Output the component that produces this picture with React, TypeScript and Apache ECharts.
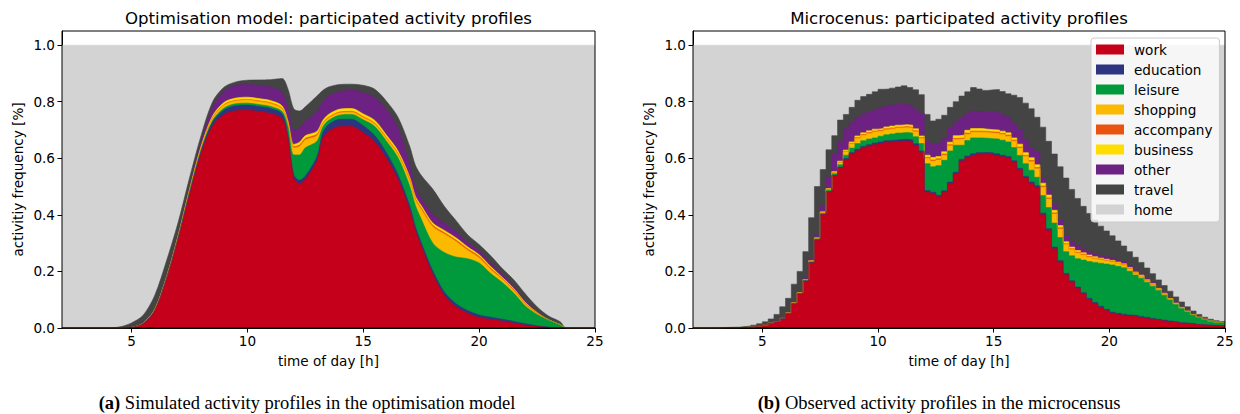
import React, { useEffect, useRef } from "react";
import * as echarts from "echarts";

const SERIES_NAMES = ["work", "education", "leisure", "shopping", "accompany", "business", "other", "travel", "home"];
const COLORS = ["#c4001a", "#2e3580", "#009a3d", "#fbb900", "#e9530f", "#ffdd00", "#6d2182", "#444444", "#d3d3d3"];

const X_TICKS = [5, 10, 15, 20, 25];
const Y_TICKS = [0, 0.2, 0.4, 0.6, 0.8, 1.0];

// ---------- (a) optimisation model ----------
const TIMES_A = [2, 3, 4, 4.5, 5, 5.5, 6, 6.5, 7, 7.5, 8, 8.5, 9, 9.5, 10, 10.5, 11, 11.5, 11.75, 12, 12.25, 12.5, 13, 13.25, 13.5, 14, 14.5, 15, 15.5, 16, 16.5, 17, 17.25, 17.5, 18, 18.5, 19, 19.5, 20, 20.5, 21, 21.5, 22, 22.5, 23, 23.5, 23.75, 24, 25];
const WORK_A = [0, 0, 0, 0, 0.002, 0.015, 0.06, 0.17, 0.31, 0.47, 0.615, 0.715, 0.755, 0.768, 0.77, 0.765, 0.758, 0.74, 0.67, 0.53, 0.51, 0.525, 0.59, 0.67, 0.695, 0.712, 0.712, 0.69, 0.658, 0.6, 0.525, 0.418, 0.345, 0.29, 0.19, 0.115, 0.075, 0.052, 0.037, 0.03, 0.024, 0.017, 0.01, 0.005, 0.002, 0, 0, 0, 0];
const EDUCATION_A = [0, 0, 0, 0, 0, 0.001, 0.002, 0.003, 0.005, 0.007, 0.01, 0.013, 0.016, 0.018, 0.018, 0.018, 0.018, 0.017, 0.012, 0.012, 0.012, 0.012, 0.015, 0.02, 0.024, 0.026, 0.026, 0.025, 0.022, 0.02, 0.017, 0.015, 0.013, 0.012, 0.012, 0.012, 0.011, 0.01, 0.009, 0.008, 0.007, 0.006, 0.005, 0.003, 0.001, 0, 0, 0, 0];
const LEISURE_A = [0, 0, 0, 0, 0, 0.001, 0.002, 0.002, 0.003, 0.004, 0.005, 0.006, 0.007, 0.007, 0.007, 0.007, 0.007, 0.008, 0.03, 0.07, 0.09, 0.1, 0.055, 0.02, 0.015, 0.015, 0.017, 0.021, 0.032, 0.04, 0.06, 0.07, 0.075, 0.083, 0.098, 0.14, 0.165, 0.183, 0.184, 0.155, 0.13, 0.1, 0.062, 0.04, 0.025, 0.012, 0, 0, 0];
const SHOPPING_A = [0, 0, 0, 0, 0, 0, 0.001, 0.001, 0.002, 0.004, 0.006, 0.008, 0.01, 0.01, 0.011, 0.011, 0.011, 0.01, 0.012, 0.025, 0.03, 0.028, 0.02, 0.01, 0.008, 0.008, 0.008, 0.008, 0.009, 0.01, 0.012, 0.02, 0.02, 0.035, 0.058, 0.065, 0.055, 0.03, 0.018, 0.014, 0.011, 0.009, 0.007, 0.003, 0.001, 0, 0, 0, 0];
const ACCOMPANY_A = [0, 0, 0, 0, 0, 0, 0, 0.001, 0.001, 0.001, 0.002, 0.002, 0.002, 0.002, 0.002, 0.002, 0.002, 0.002, 0.002, 0.004, 0.005, 0.005, 0.005, 0.003, 0.003, 0.003, 0.003, 0.003, 0.003, 0.003, 0.003, 0.004, 0.005, 0.005, 0.005, 0.005, 0.005, 0.005, 0.005, 0.004, 0.003, 0.003, 0.003, 0.002, 0, 0, 0, 0, 0];
const BUSINESS_A = [0, 0, 0, 0, 0, 0, 0.001, 0.001, 0.002, 0.003, 0.004, 0.006, 0.008, 0.008, 0.008, 0.008, 0.008, 0.008, 0.006, 0.008, 0.01, 0.01, 0.01, 0.01, 0.01, 0.01, 0.01, 0.01, 0.01, 0.009, 0.009, 0.008, 0.008, 0.008, 0.008, 0.008, 0.008, 0.007, 0.006, 0.006, 0.004, 0.004, 0.003, 0.002, 0, 0, 0, 0, 0];
const OTHER_A = [0, 0, 0, 0, 0, 0.001, 0.002, 0.003, 0.005, 0.008, 0.015, 0.03, 0.04, 0.045, 0.045, 0.046, 0.047, 0.048, 0.045, 0.05, 0.05, 0.05, 0.07, 0.065, 0.065, 0.062, 0.065, 0.075, 0.08, 0.09, 0.08, 0.045, 0.03, 0.025, 0.03, 0.025, 0.022, 0.017, 0.014, 0.013, 0.01, 0.007, 0.005, 0.002, 0, 0, 0, 0, 0];
const TRAVEL_A = [0, 0, 0, 0.004, 0.016, 0.027, 0.047, 0.054, 0.042, 0.033, 0.023, 0.02, 0.014, 0.012, 0.015, 0.02, 0.027, 0.049, 0.068, 0.076, 0.06, 0.052, 0.055, 0.042, 0.032, 0.025, 0.021, 0.026, 0.03, 0.03, 0.039, 0.063, 0.079, 0.082, 0.09, 0.06, 0.039, 0.026, 0.022, 0.025, 0.021, 0.024, 0.025, 0.018, 0.013, 0.01, 0, 0, 0];

// ---------- (b) microcensus ----------
const TIMES_B = [2, 2.5, 3, 3.5,
  4, 4.25, 4.5, 4.75, 5, 5.25, 5.5, 5.75, 6, 6.25, 6.5, 6.75, 7, 7.25, 7.5, 7.75,
  8, 8.25, 8.5, 8.75, 9, 9.25, 9.5, 9.75, 10, 10.25, 10.5, 10.75, 11, 11.25, 11.5, 11.75,
  12, 12.25, 12.5, 12.75, 13, 13.25, 13.5, 13.75, 14, 14.25, 14.5, 14.75, 15, 15.25, 15.5, 15.75,
  16, 16.25, 16.5, 16.75, 17, 17.25, 17.5, 17.75, 18, 18.25, 18.5, 18.75, 19, 19.25, 19.5, 19.75,
  20, 20.25, 20.5, 20.75, 21, 21.25, 21.5, 21.75, 22, 22.25, 22.5, 22.75, 23, 23.25, 23.5, 23.75,
  24, 24.25, 24.5, 24.75, 25];
const WORK_B = [0, 0, 0.001, 0.001,
  0.002, 0.003, 0.005, 0.008, 0.011, 0.016, 0.021, 0.032, 0.05, 0.085, 0.12, 0.165, 0.23, 0.31, 0.4, 0.48,
  0.537, 0.565, 0.595, 0.615, 0.627, 0.636, 0.642, 0.648, 0.652, 0.656, 0.658, 0.66, 0.661, 0.659, 0.645, 0.62,
  0.48, 0.475, 0.464, 0.48, 0.51, 0.545, 0.59, 0.602, 0.61, 0.614, 0.615, 0.613, 0.61, 0.605, 0.6, 0.585,
  0.558, 0.53, 0.51, 0.497, 0.4, 0.345, 0.28, 0.232, 0.188, 0.162, 0.14, 0.12, 0.1, 0.085, 0.072, 0.062,
  0.052, 0.048, 0.045, 0.042, 0.04, 0.037, 0.034, 0.031, 0.028, 0.025, 0.022, 0.02, 0.017, 0.015, 0.013, 0.011,
  0.01, 0.009, 0.008, 0.007, 0.007];
const EDUCATION_B = [0, 0, 0, 0,
  0, 0, 0, 0, 0, 0.001, 0.001, 0.001, 0.001, 0.001, 0.001, 0.002, 0.002, 0.002, 0.002, 0.003,
  0.003, 0.004, 0.004, 0.005, 0.005, 0.006, 0.006, 0.006, 0.006, 0.006, 0.006, 0.006, 0.006, 0.006, 0.006, 0.006,
  0.006, 0.005, 0.005, 0.005, 0.006, 0.006, 0.006, 0.006, 0.006, 0.006, 0.006, 0.006, 0.006, 0.006, 0.006, 0.006,
  0.006, 0.006, 0.006, 0.006, 0.006, 0.006, 0.006, 0.006, 0.005, 0.005, 0.005, 0.005, 0.005, 0.005, 0.005, 0.004,
  0.004, 0.004, 0.004, 0.004, 0.004, 0.004, 0.004, 0.003, 0.003, 0.003, 0.003, 0.002, 0.002, 0.002, 0.002, 0.001,
  0.001, 0.001, 0.001, 0.001, 0.001];
const LEISURE_B = [0, 0, 0, 0,
  0, 0, 0, 0, 0, 0, 0.001, 0.001, 0.001, 0.001, 0.002, 0.002, 0.002, 0.003, 0.003, 0.004,
  0.005, 0.008, 0.012, 0.016, 0.02, 0.02, 0.02, 0.018, 0.02, 0.021, 0.022, 0.023, 0.024, 0.024, 0.025, 0.026,
  0.095, 0.09, 0.105, 0.108, 0.11, 0.095, 0.05, 0.055, 0.056, 0.052, 0.05, 0.05, 0.052, 0.053, 0.052, 0.047,
  0.046, 0.045, 0.042, 0.03, 0.062, 0.075, 0.085, 0.082, 0.077, 0.088, 0.1, 0.115, 0.13, 0.142, 0.152, 0.16,
  0.167, 0.166, 0.164, 0.155, 0.143, 0.135, 0.124, 0.114, 0.102, 0.088, 0.074, 0.061, 0.05, 0.04, 0.031, 0.025,
  0.019, 0.015, 0.012, 0.011, 0.01];
const SHOPPING_B = [0, 0, 0, 0,
  0, 0, 0, 0, 0, 0, 0, 0, 0.001, 0.001, 0.001, 0.001, 0.002, 0.002, 0.003, 0.003,
  0.005, 0.008, 0.012, 0.015, 0.018, 0.019, 0.02, 0.021, 0.018, 0.018, 0.018, 0.018, 0.018, 0.018, 0.018, 0.018,
  0.018, 0.02, 0.02, 0.018, 0.018, 0.02, 0.022, 0.022, 0.02, 0.02, 0.02, 0.02, 0.02, 0.02, 0.02, 0.022,
  0.026, 0.025, 0.03, 0.03, 0.03, 0.03, 0.032, 0.03, 0.025, 0.022, 0.02, 0.018, 0.015, 0.013, 0.012, 0.011,
  0.01, 0.01, 0.009, 0.008, 0.006, 0.006, 0.005, 0.005, 0.004, 0.004, 0.003, 0.003, 0.002, 0.002, 0.001, 0.001,
  0.001, 0, 0, 0, 0];
const ACCOMPANY_B = [0, 0, 0, 0,
  0, 0, 0, 0, 0, 0, 0, 0, 0, 0, 0, 0, 0.001, 0.001, 0.001, 0.001,
  0.001, 0.002, 0.002, 0.002, 0.003, 0.003, 0.003, 0.003, 0.003, 0.003, 0.003, 0.003, 0.003, 0.003, 0.003, 0.003,
  0.004, 0.004, 0.004, 0.004, 0.004, 0.004, 0.004, 0.004, 0.004, 0.004, 0.004, 0.004, 0.004, 0.004, 0.004, 0.004,
  0.004, 0.004, 0.004, 0.004, 0.004, 0.004, 0.004, 0.004, 0.003, 0.003, 0.003, 0.003, 0.003, 0.002, 0.002, 0.002,
  0.002, 0.002, 0.002, 0.002, 0.002, 0.002, 0.002, 0.002, 0.001, 0.001, 0.001, 0.001, 0.001, 0, 0, 0,
  0, 0, 0, 0, 0];
const BUSINESS_B = [0, 0, 0, 0,
  0, 0, 0, 0, 0, 0, 0, 0, 0, 0.001, 0.001, 0.001, 0.001, 0.001, 0.002, 0.002,
  0.002, 0.003, 0.004, 0.005, 0.006, 0.006, 0.006, 0.007, 0.006, 0.007, 0.007, 0.007, 0.007, 0.007, 0.007, 0.006,
  0.008, 0.009, 0.008, 0.008, 0.009, 0.01, 0.01, 0.01, 0.009, 0.009, 0.008, 0.008, 0.008, 0.008, 0.008, 0.008,
  0.01, 0.01, 0.01, 0.01, 0.01, 0.01, 0.009, 0.008, 0.007, 0.006, 0.006, 0.005, 0.005, 0.005, 0.004, 0.004,
  0.004, 0.003, 0.003, 0.003, 0.003, 0.003, 0.002, 0.002, 0.002, 0.002, 0.001, 0.001, 0.001, 0.001, 0.001, 0,
  0, 0, 0, 0, 0];
const OTHER_B = [0, 0, 0, 0,
  0, 0, 0, 0, 0.001, 0.001, 0.001, 0.002, 0.002, 0.003, 0.004, 0.005, 0.007, 0.01, 0.02, 0.04,
  0.06, 0.07, 0.075, 0.068, 0.064, 0.065, 0.066, 0.066, 0.072, 0.073, 0.074, 0.074, 0.073, 0.071, 0.068, 0.08,
  0.05, 0.047, 0.048, 0.048, 0.05, 0.05, 0.06, 0.06, 0.062, 0.06, 0.06, 0.062, 0.066, 0.058, 0.055, 0.05,
  0.052, 0.047, 0.035, 0.045, 0.02, 0.02, 0.02, 0.02, 0.02, 0.02, 0.017, 0.014, 0.012, 0.01, 0.01, 0.009,
  0.008, 0.007, 0.007, 0.006, 0.006, 0.005, 0.005, 0.004, 0.004, 0.003, 0.003, 0.002, 0.002, 0.002, 0.001, 0.001,
  0.001, 0.001, 0.001, 0, 0];
const TRAVEL_B = [0, 0.001, 0.001, 0.002,
  0.003, 0.004, 0.005, 0.007, 0.01, 0.014, 0.024, 0.039, 0.05, 0.063, 0.071, 0.094, 0.145, 0.171, 0.129, 0.097,
  0.067, 0.075, 0.051, 0.054, 0.062, 0.063, 0.063, 0.066, 0.067, 0.061, 0.06, 0.061, 0.064, 0.062, 0.07, 0.066,
  0.094, 0.082, 0.084, 0.081, 0.073, 0.07, 0.078, 0.076, 0.083, 0.08, 0.077, 0.079, 0.077, 0.082, 0.083, 0.101,
  0.113, 0.128, 0.138, 0.123, 0.178, 0.17, 0.179, 0.188, 0.205, 0.184, 0.167, 0.15, 0.135, 0.12, 0.103, 0.091,
  0.079, 0.068, 0.056, 0.05, 0.046, 0.04, 0.036, 0.031, 0.026, 0.024, 0.023, 0.02, 0.017, 0.013, 0.011, 0.009,
  0.006, 0.005, 0.004, 0.004, 0.003];

const LAYERS_A = [WORK_A, EDUCATION_A, LEISURE_A, SHOPPING_A, ACCOMPANY_A, BUSINESS_A, OTHER_A, TRAVEL_A];
const LAYERS_B = [WORK_B, EDUCATION_B, LEISURE_B, SHOPPING_B, ACCOMPANY_B, BUSINESS_B, OTHER_B, TRAVEL_B];

const FONT = "DejaVu Sans";
const SERIF = "Liberation Serif";
const LABEL_SIZE = 13.6;
const TITLE_SIZE = 16.6;

function withHome(layers: number[][]): number[][] {
  const home = layers[0].map((_, i) => Math.max(0, 1 - layers.reduce((s, l) => s + l[i], 0)));
  return [...layers, home];
}

function cumulate(layers: number[][]): number[][] {
  const out: number[][] = [];
  let run = layers[0].map(() => 0);
  for (const l of layers) {
    run = run.map((v, i) => v + l[i]);
    out.push(run);
  }
  return out;
}

function buildSeries(times: number[], layers: number[][], panel: number, extra: any) {
  const all = withHome(layers);
  const tops = cumulate(all);
  const series: any[] = [];
  for (let k = all.length - 1; k >= 0; k--) {
    series.push({
      type: "line",
      name: SERIES_NAMES[k],
      xAxisIndex: panel,
      yAxisIndex: panel,
      data: times.map((t, i) => [t, tops[k][i]]),
      symbol: "none",
      showSymbol: false,
      silent: true,
      lineStyle: { width: 0.6, color: COLORS[k] },
      itemStyle: { color: COLORS[k] },
      areaStyle: { color: COLORS[k], opacity: 1 },
      emphasis: { disabled: true },
      ...extra,
    });
  }
  return series;
}

const tickText = { fontFamily: FONT, fontSize: LABEL_SIZE, color: "#000" };

function xAxis(gridIndex: number) {
  return {
    type: "value",
    gridIndex,
    min: 2,
    max: 25,
    name: "time of day [h]",
    nameLocation: "middle",
    nameGap: 26,
    nameTextStyle: { ...tickText },
    axisLine: { show: true, onZero: false, lineStyle: { color: "#000", width: 1 } },
    axisTick: { show: true, length: 4.5, lineStyle: { color: "#000", width: 1 }, customValues: X_TICKS },
    axisLabel: { ...tickText, margin: 6, customValues: X_TICKS, formatter: (v: number) => String(v) },
    splitLine: { show: false },
  };
}

function yAxis(gridIndex: number) {
  return {
    type: "value",
    gridIndex,
    min: 0,
    max: 1.05,
    name: "activitiy frequency [%]",
    nameLocation: "middle",
    nameGap: 37,
    nameTextStyle: { ...tickText },
    axisLine: { show: true, onZero: false, lineStyle: { color: "#000", width: 1 } },
    axisTick: { show: true, length: 4.5, lineStyle: { color: "#000", width: 1 }, customValues: Y_TICKS },
    axisLabel: { ...tickText, margin: 7, customValues: Y_TICKS, formatter: (v: number) => v.toFixed(1) },
    splitLine: { show: false },
  };
}

export default function App() {
  const ref = useRef<HTMLDivElement>(null);
  useEffect(() => {
    if (!ref.current) return;
    const chart = echarts.init(ref.current, undefined, { renderer: "svg" });
    const option: any = {
      animation: false,
      backgroundColor: "#fff",
      grid: [
        { left: 62, top: 31, width: 533, height: 297, show: true, borderColor: "#000", borderWidth: 1, backgroundColor: "transparent", z: 10 },
        { left: 693, top: 31, width: 532, height: 297, show: true, borderColor: "#000", borderWidth: 1, backgroundColor: "transparent", z: 10 },
      ],
      xAxis: [xAxis(0), xAxis(1)],
      yAxis: [yAxis(0), yAxis(1)],
      legend: {
        data: SERIES_NAMES,
        orient: "vertical",
        left: 1091,
        top: 38,
        icon: "rect",
        itemWidth: 28,
        itemHeight: 10,
        itemGap: 5,
        padding: [4, 7, 5, 5],
        backgroundColor: "rgba(255,255,255,0.8)",
        borderColor: "#cccccc",
        borderWidth: 1,
        borderRadius: 3,
        selectedMode: false,
        itemStyle: { borderWidth: 0 },
        textStyle: { fontFamily: FONT, fontSize: LABEL_SIZE, color: "#000", lineHeight: 15, padding: [0, 0, 0, 5] },
      },
      graphic: [
        {
          type: "text", x: 328.5, y: 18, silent: true,
          style: { text: "Optimisation model: participated activity profiles", fontFamily: FONT, fontSize: TITLE_SIZE, fill: "#000", align: "center", verticalAlign: "middle", textAlign: "center", textVerticalAlign: "middle" },
        },
        {
          type: "text", x: 959, y: 18, silent: true,
          style: { text: "Microcenus: participated activity profiles", fontFamily: FONT, fontSize: TITLE_SIZE, fill: "#000", align: "center", verticalAlign: "middle", textAlign: "center", textVerticalAlign: "middle" },
        },
        {
          type: "text", x: 307, y: 403, silent: true,
          style: {
            text: "{b|(a)} Simulated activity profiles in the optimisation model",
            fontFamily: SERIF, fontSize: 18.5, fill: "#000", align: "center", verticalAlign: "middle", textAlign: "center", textVerticalAlign: "middle",
            rich: { b: { fontFamily: SERIF, fontSize: 18.5, fontWeight: "bold", fill: "#000" } },
          },
        },
        {
          type: "text", x: 939, y: 403, silent: true,
          style: {
            text: "{b|(b)} Observed activity profiles in the microcensus",
            fontFamily: SERIF, fontSize: 18.5, fill: "#000", align: "center", verticalAlign: "middle", textAlign: "center", textVerticalAlign: "middle",
            rich: { b: { fontFamily: SERIF, fontSize: 18.5, fontWeight: "bold", fill: "#000" } },
          },
        },
      ],
      series: [
        ...buildSeries(TIMES_A, LAYERS_A, 0, { smooth: 0.3 }),
        ...buildSeries(TIMES_B, LAYERS_B, 1, { step: "end" }),
      ],
    };
    chart.setOption(option);
    return () => chart.dispose();
  }, []);
  return <div ref={ref} style={{ position: "fixed", left: 0, top: 0, width: 1240, height: 414 }} />;
}
